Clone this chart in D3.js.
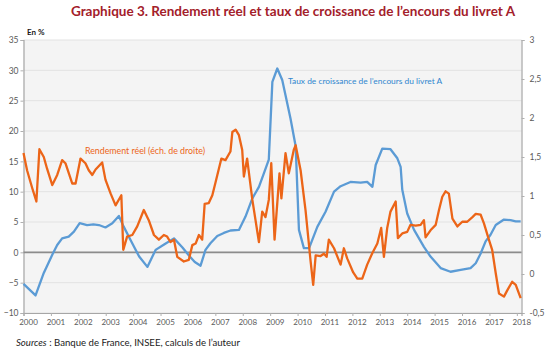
<!DOCTYPE html>
<html>
<head>
<meta charset="utf-8">
<script src="https://cdn.jsdelivr.net/npm/d3@7"></script>
<style>
  body { margin: 0; background: #fff; }
  svg text { font-family: Lato, "Open Sans", sans-serif; }
</style>
</head>
<body>
<svg id="chart" width="550" height="354"></svg>
<script>
// growth rate of the livret A outstanding amount (left axis, %)
var blueDates = [2000.0, 2000.44, 2000.74, 2001.05, 2001.23, 2001.41, 2001.65, 2001.84, 2002.05, 2002.32,
  2002.55, 2002.75, 2002.99, 2003.24, 2003.48, 2003.66, 2003.91, 2004.22, 2004.52, 2004.82,
  2005.13, 2005.49, 2005.8, 2006.05, 2006.25, 2006.46, 2006.64, 2006.82, 2007.07, 2007.31,
  2007.55, 2007.86, 2008.10, 2008.35, 2008.59, 2008.77, 2008.95, 2009.08, 2009.26, 2009.44,
  2009.56, 2009.74, 2009.93, 2010.05, 2010.23, 2010.42, 2010.72, 2011.02, 2011.33, 2011.57,
  2011.93, 2012.30, 2012.54, 2012.73, 2012.85, 2013.09, 2013.39, 2013.64, 2013.76, 2013.82,
  2014.0, 2014.25, 2014.61, 2014.85, 2015.22, 2015.58, 2015.95, 2016.31, 2016.50, 2016.68,
  2016.86, 2017.04, 2017.23, 2017.53, 2017.77, 2017.96, 2018.14];
var blueValues = [-5.2, -7.1, -3.4, -0.4, 1.2, 2.3, 2.6, 3.4, 4.8, 4.5,
  4.6, 4.5, 4.1, 4.8, 6.0, 4.2, 2.0, -0.7, -2.4, 0.4,
  1.3, 2.3, 0.8, -0.6, -1.6, -2.2, 0.4, 1.5, 2.7, 3.2,
  3.6, 3.7, 5.9, 8.9, 10.8, 13.0, 15.3, 28.1, 30.3, 28.4,
  25.9, 22.1, 17.5, 3.7, 0.7, 0.7, 4.2, 6.7, 10.0, 10.9,
  11.6, 11.5, 11.6, 10.8, 14.4, 17.1, 17.0, 15.5, 14.1, 10.3,
  6.4, 3.7, 0.9, -0.7, -2.6, -3.2, -2.9, -2.6, -1.8, -0.2,
  1.8, 2.9, 4.5, 5.4, 5.3, 5.1, 5.1];

// real yield (right axis, %)
var orangeDates = [2000.0, 2000.13, 2000.32, 2000.47, 2000.58, 2000.74, 2000.86, 2001.05, 2001.23, 2001.41,
  2001.53, 2001.78, 2001.90, 2002.08, 2002.26, 2002.38, 2002.51, 2002.63, 2002.87, 2002.99,
  2003.18, 2003.36, 2003.57, 2003.64, 2003.78, 2003.97, 2004.15, 2004.39, 2004.57, 2004.76,
  2004.94, 2005.12, 2005.24, 2005.36, 2005.49, 2005.61, 2005.85, 2006.03, 2006.16, 2006.28,
  2006.40, 2006.52, 2006.61, 2006.76, 2006.89, 2007.01, 2007.22, 2007.37, 2007.55, 2007.62,
  2007.74, 2007.86, 2007.98, 2008.04, 2008.16, 2008.35, 2008.59, 2008.71, 2008.83, 2008.95,
  2009.04, 2009.16, 2009.34, 2009.41, 2009.56, 2009.68, 2009.86, 2009.93, 2010.11, 2010.29,
  2010.47, 2010.57, 2010.66, 2010.84, 2010.96, 2011.06, 2011.14, 2011.33, 2011.57, 2011.69,
  2011.81, 2012.03, 2012.18, 2012.36, 2012.54, 2012.73, 2012.91, 2013.05, 2013.15, 2013.27,
  2013.39, 2013.58, 2013.66, 2013.82, 2014.0, 2014.12, 2014.31, 2014.49, 2014.61, 2014.67,
  2014.85, 2015.04, 2015.16, 2015.28, 2015.40, 2015.52, 2015.65, 2015.83, 2016.01, 2016.19,
  2016.38, 2016.50, 2016.68, 2016.80, 2016.98, 2017.10, 2017.23, 2017.35, 2017.53, 2017.65,
  2017.83, 2017.96, 2018.14];
var orangeValues = [1.55, 1.33, 1.10, 0.93, 1.60, 1.50, 1.35, 1.14, 1.27, 1.46,
  1.42, 1.16, 1.16, 1.48, 1.42, 1.33, 1.27, 1.34, 1.43, 1.21,
  1.03, 0.88, 1.01, 0.31, 0.48, 0.50, 0.61, 0.82, 0.69, 0.50,
  0.44, 0.50, 0.48, 0.41, 0.44, 0.22, 0.16, 0.18, 0.37, 0.39,
  0.50, 0.44, 0.90, 0.91, 1.01, 1.18, 1.48, 1.46, 1.57, 1.82,
  1.85, 1.78, 1.59, 1.25, 1.48, 0.95, 0.41, 0.80, 0.73, 0.95,
  1.42, 0.44, 1.29, 0.97, 1.55, 1.29, 1.59, 1.65, 1.33, 0.82,
  0.18, -0.14, 0.24, 0.23, 0.26, 0.22, 0.44, 0.33, 0.12, 0.33,
  0.20, 0.02, -0.06, -0.06, 0.12, 0.27, 0.39, 0.59, 0.22, 0.59,
  0.80, 0.93, 0.46, 0.52, 0.54, 0.63, 0.62, 0.63, 0.69, 0.47,
  0.56, 0.63, 0.82, 0.99, 1.06, 1.03, 0.71, 0.61, 0.67, 0.67,
  0.73, 0.77, 0.76, 0.65, 0.44, 0.31, 0.01, -0.25, -0.29, -0.21,
  -0.10, -0.14, -0.31];

var years = d3.range(2000, 2019);
var leftTicks = d3.range(-10, 36, 5);
var rightTicks = [-0.5, 0, 0.5, 1, 1.5, 2, 2.5, 3];

var blueColor = '#5b9bd5';
var orangeColor = '#ec6518';

var svg = d3.select('#chart');

var x = d3.scaleLinear().domain([2000, 2018.17]).range([23.5, 521.5]);
var yL = d3.scaleLinear().domain([-10, 35]).range([313, 40]);
var yR = d3.scaleLinear().domain([-0.5, 3]).range([313, 40]);

// title
svg.append('text')
  .attr('x', 293).attr('y', 16)
  .attr('text-anchor', 'middle')
  .attr('font-size', 13.5).attr('font-weight', 'bold')
  .attr('fill', '#a3202a')
  .text('Graphique 3. Rendement réel et taux de croissance de l’encours du livret A');

// plot background + grid
svg.append('rect')
  .attr('x', x.range()[0]).attr('y', yL(35))
  .attr('width', x.range()[1] - x.range()[0]).attr('height', yL(-10) - yL(35))
  .attr('fill', '#f4f4f4');

svg.append('g').selectAll('line')
  .data(leftTicks)
  .join('line')
  .attr('x1', x.range()[0]).attr('x2', x.range()[1])
  .attr('y1', function(d){ return yL(d); }).attr('y2', function(d){ return yL(d); })
  .attr('stroke', '#e2e2e2').attr('stroke-width', 1);

// axes
var axL = svg.append('g')
  .attr('transform', 'translate(' + x.range()[0] + ',0)')
  .call(d3.axisLeft(yL).tickValues(leftTicks).tickSize(3).tickPadding(2));
var axR = svg.append('g')
  .attr('transform', 'translate(' + x.range()[1] + ',0)')
  .call(d3.axisRight(yR).tickValues(rightTicks).tickSize(3).tickPadding(5)
    .tickFormat(function(d){ return String(d).replace('.', ','); }));
var axB = svg.append('g')
  .attr('transform', 'translate(0,' + yL(-10) + ')')
  .call(d3.axisBottom(x).tickValues(years).tickSize(3).tickPadding(3).tickFormat(d3.format('d')));
axB.selectAll('text').attr('dx', 4.5);

[axL, axR, axB].forEach(function(a){
  a.select('.domain').attr('stroke', '#a6a6a6').attr('stroke-width', 1.2);
  a.selectAll('.tick line').attr('stroke', '#b0b0b0');
  a.selectAll('text').attr('fill', '#595959').attr('font-size', 8.5)
    .attr('font-family', 'Lato, sans-serif');
});
axB.selectAll('text').attr('font-size', 8);

// zero line
svg.append('line')
  .attr('x1', x.range()[0]).attr('x2', x.range()[1])
  .attr('y1', yL(0)).attr('y2', yL(0))
  .attr('stroke', '#8c8c8c').attr('stroke-width', 1.6);

// series
var blueLine = d3.line()
  .x(function(d, i){ return x(blueDates[i]); })
  .y(function(d){ return yL(d); });
var orangeLine = d3.line()
  .x(function(d, i){ return x(orangeDates[i]); })
  .y(function(d){ return yR(d); });

svg.append('path')
  .datum(blueValues)
  .attr('d', blueLine)
  .attr('fill', 'none').attr('stroke', blueColor)
  .attr('stroke-width', 2.3).attr('stroke-linejoin', 'round');

svg.append('path')
  .datum(orangeValues)
  .attr('d', orangeLine)
  .attr('fill', 'none').attr('stroke', orangeColor)
  .attr('stroke-width', 2.3).attr('stroke-linejoin', 'round');

// labels
svg.append('text')
  .attr('x', 27).attr('y', 35)
  .attr('font-size', 8).attr('font-weight', 'bold').attr('fill', '#1a1a1a')
  .text('En %');

svg.append('text')
  .attr('x', 85).attr('y', 154)
  .attr('font-size', 8.8).attr('fill', orangeColor)
  .text('Rendement réel (éch. de droite)');

svg.append('text')
  .attr('x', 288).attr('y', 84)
  .attr('font-size', 8.4).attr('fill', '#2f86cf')
  .text('Taux de croissance de l’encours du livret A');

var src = svg.append('text')
  .attr('x', 16).attr('y', 346)
  .attr('font-size', 9.6).attr('fill', '#1a1a1a');
src.append('tspan').attr('font-style', 'italic').text('Sources');
src.append('tspan').text(' : Banque de France, INSEE, calculs de l’auteur');
</script>
</body>
</html>
